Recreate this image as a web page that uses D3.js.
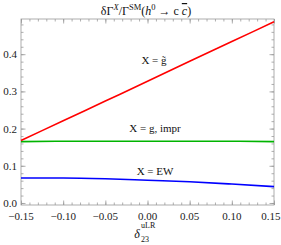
<!DOCTYPE html>
<html><head><meta charset="utf-8">
<script src="https://cdn.jsdelivr.net/npm/d3@7"></script>
<style>
html,body{margin:0;padding:0;background:#fff;}
svg{display:block;font-family:"Liberation Serif","Times New Roman",serif;}
</style></head>
<body><svg id="c" width="281" height="245"></svg>
<script>
const delta = [-0.15, -0.10, -0.05, 0.00, 0.05, 0.10, 0.15];
const gTilde = [0.168, 0.221, 0.274, 0.327, 0.381, 0.434, 0.487];
const gImpr = [0.165, 0.166, 0.166, 0.166, 0.166, 0.166, 0.165];
const ew = [0.067, 0.067, 0.065, 0.061, 0.057, 0.051, 0.044];
const xTicks = [-0.15, -0.10, -0.05, 0.00, 0.05, 0.10, 0.15];
const xTickLabels = ["\u22120.15", "\u22120.10", "\u22120.05", "0.00", "0.05", "0.10", "0.15"];
const yTicks = [0.0, 0.1, 0.2, 0.3, 0.4];
const yTickLabels = ["0.0", "0.1", "0.2", "0.3", "0.4"];

const L = 21, R = 274, T = 19, B = 205;
const x = d3.scaleLinear().domain([-0.15, 0.15]).range([L, R]);
const y = d3.scaleLinear().domain([-0.0054, 0.4946]).range([B, T]);
const svg = d3.select("#c");
const frameCol = "#9a9a9a";

const xMinor = d3.range(-15, 16, 1).map(v => v / 100);
const yMinor = d3.range(0, 25, 1).map(v => v * 0.02);

function drawAxis(axisFn, scale, ticks, size, tr) {
  const g = svg.append("g").attr("transform", tr)
    .call(axisFn(scale).tickValues(ticks).tickSize(size).tickFormat(""));
  g.select(".domain").remove();
  g.selectAll("line").attr("stroke", frameCol).attr("stroke-width", 0.8);
  return g;
}
drawAxis(d3.axisBottom, x, xMinor, -2.5, `translate(0,${B})`);
drawAxis(d3.axisBottom, x, xTicks, -4.5, `translate(0,${B})`);
drawAxis(d3.axisTop, x, xMinor, -2.5, `translate(0,${T})`);
drawAxis(d3.axisTop, x, xTicks, -4.5, `translate(0,${T})`);
drawAxis(d3.axisLeft, y, yMinor, -2.5, `translate(${L},0)`);
drawAxis(d3.axisLeft, y, yTicks, -4.5, `translate(${L},0)`);
drawAxis(d3.axisRight, y, yMinor, -2.5, `translate(${R},0)`);
drawAxis(d3.axisRight, y, yTicks, -4.5, `translate(${R},0)`);

svg.append("rect").attr("x", L).attr("y", T).attr("width", R - L).attr("height", B - T)
  .attr("fill", "none").attr("stroke", frameCol).attr("stroke-width", 0.8);

const last = xTicks.length - 1;
svg.append("g").selectAll("text").data(xTicks).join("text")
  .attr("x", (d, i) => i === last ? 280.5 : x(d)).attr("y", B + 15)
  .attr("text-anchor", (d, i) => i === last ? "end" : "middle")
  .attr("font-size", 11).attr("fill", "#222").text((d, i) => xTickLabels[i]);
svg.append("g").selectAll("text").data(yTicks).join("text")
  .attr("x", L - 4).attr("y", d => y(d) + 4).attr("text-anchor", "end")
  .attr("font-size", 11).attr("fill", "#222").text((d, i) => yTickLabels[i]);

const line = d3.line().x((d, i) => x(delta[i])).y(d => y(d)).curve(d3.curveMonotoneX);
const series = [[ew, "#0000ff"], [gImpr, "#00b400"], [gTilde, "#ff0000"]];
series.forEach(([vals, col]) => {
  svg.append("path").datum(vals).attr("d", line).attr("fill", "none")
    .attr("stroke", col).attr("stroke-width", 1.6);
});

const lab = (tx, ty, s) => svg.append("text").attr("x", tx).attr("y", ty)
  .attr("font-size", 11).attr("fill", "#111").attr("text-anchor", "middle").text(s);
lab(154, 64, "X = g\u0303");
lab(155, 132, "X = g, impr");
lab(155, 175, "X = EW");

const t = svg.append("text").attr("x", 146).attr("y", 15).attr("text-anchor", "middle")
  .attr("font-size", 12).attr("fill", "#111");
t.append("tspan").text("\u03b4\u0393");
t.append("tspan").attr("font-size", 8.5).attr("dy", -5).attr("font-style", "italic").text("X");
t.append("tspan").attr("dy", 5).text("/\u0393");
t.append("tspan").attr("font-size", 8.5).attr("dy", -5).text("SM");
t.append("tspan").attr("dy", 5).text("(");
t.append("tspan").attr("font-style", "italic").text("h");
t.append("tspan").attr("font-size", 8.5).attr("dy", -5).text("0");
t.append("tspan").attr("dy", 5).text(" \u2192 c ");
t.append("tspan").attr("font-style", "italic").attr("text-decoration", "overline").text("c");
t.append("tspan").text(")");

svg.append("text").attr("x", 137).attr("y", 238).attr("font-size", 12).attr("font-style", "italic")
  .attr("fill", "#111").attr("text-anchor", "middle").text("\u03b4");
svg.append("text").attr("x", 141).attr("y", 228).attr("font-size", 8).attr("fill", "#111").text("uLR");
svg.append("text").attr("x", 141).attr("y", 242).attr("font-size", 8).attr("fill", "#111").text("23");
</script></body></html>
